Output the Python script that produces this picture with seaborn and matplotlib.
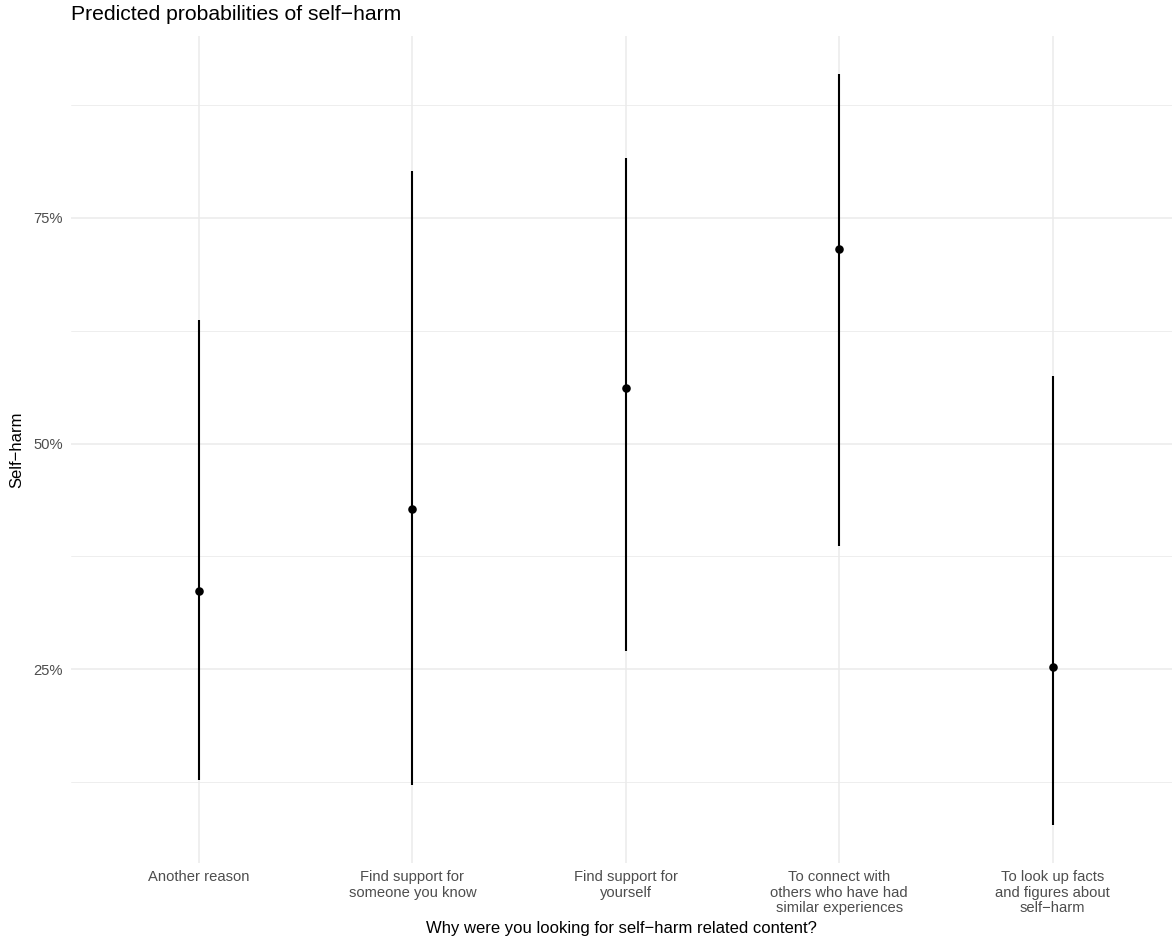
import matplotlib
matplotlib.use("Agg")
import matplotlib.pyplot as plt
from matplotlib.ticker import PercentFormatter, FixedLocator
import seaborn as sns
import pandas as pd

# Predicted probabilities with 95% intervals, by reason for searching
reasons = [
    "Another reason",
    "Find support for\nsomeone you know",
    "Find support for\nyourself",
    "To connect with\nothers who have had\nsimilar experiences",
    "To look up facts\nand figures about\nself\u2212harm",
]
predicted = [0.337, 0.428, 0.562, 0.716, 0.253]
ci_low = [0.127, 0.122, 0.270, 0.387, 0.077]
ci_high = [0.637, 0.802, 0.816, 0.910, 0.575]

df = pd.DataFrame({"reason": reasons, "predicted": predicted,
                   "low": ci_low, "high": ci_high})

sns.set_theme(style="white")
plt.rcParams["font.family"] = ["Liberation Sans", "DejaVu Sans"]

fig = plt.figure(figsize=(11.72, 9.4), dpi=100)
ax = fig.add_axes([71 / 1172, 77 / 940, 1101 / 1172, 827 / 940])

grid_col = "#EBEBEB"
positions = list(range(len(df)))

ax.vlines(positions, df["low"], df["high"], color="black", linewidth=1.5, zorder=3)
sns.scatterplot(data=df, x="reason", y="predicted", ax=ax, color="black",
                s=38, edgecolor="black", linewidth=0, zorder=4)

ax.set_xlim(-0.6, 4.559)
ax.set_ylim(0.0354, 0.9516)
ax.yaxis.set_major_locator(FixedLocator([0.25, 0.5, 0.75]))
ax.yaxis.set_minor_locator(FixedLocator([0.125, 0.375, 0.625, 0.875]))
ax.yaxis.set_major_formatter(PercentFormatter(xmax=1, decimals=0))

ax.grid(True, which="major", color=grid_col, linewidth=1.1, zorder=0)
ax.grid(True, which="minor", axis="y", color=grid_col, linewidth=0.6, zorder=0)
ax.set_axisbelow(True)
for s in ax.spines.values():
    s.set_visible(False)

ax.tick_params(axis="both", which="both", length=0, labelsize=10.6,
               labelcolor="#4D4D4D")
ax.tick_params(axis="x", pad=5)
ax.tick_params(axis="y", pad=6)
for lbl in ax.get_xticklabels():
    lbl.set_linespacing(1.16)

ax.set_xlabel("Why were you looking for self\u2212harm related content?",
              fontsize=12.0, color="black", labelpad=4)
ax.set_ylabel("Self\u2212harm", fontsize=12.0, color="black", labelpad=6)
fig.text(71 / 1172, 1 - 15 / 940, "Predicted probabilities of self\u2212harm",
         fontsize=15.2, color="black", ha="left", va="center")

fig.savefig("out.png", dpi=100, facecolor="white")
